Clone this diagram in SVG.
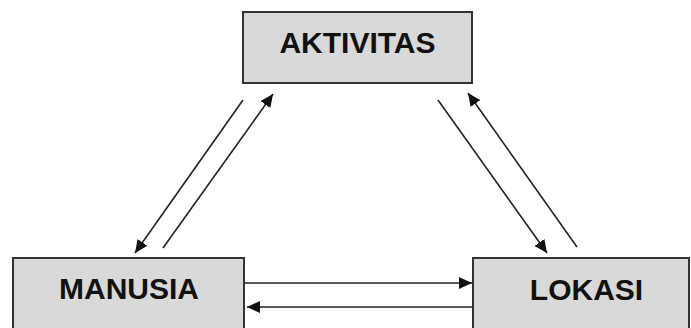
<svg xmlns="http://www.w3.org/2000/svg" width="691" height="328" viewBox="0 0 691 328">
<style>
.box{fill:#d9d9d9;stroke:#333;stroke-width:2}
.lbl{font-family:"Liberation Sans",Arial,sans-serif;font-weight:bold;font-size:30px;fill:#111;text-anchor:middle}
.conn{stroke:#222;stroke-width:1.6;fill:none;marker-end:url(#ah)}
</style>
<defs>
<marker id="ah" markerUnits="userSpaceOnUse" markerWidth="14" markerHeight="12" refX="13" refY="6" orient="auto">
<path d="M0,0 L13,6 L0,12 z" fill="#111"/>
</marker>
</defs>
<rect width="691" height="328" fill="#fff"/>
<g id="connectors">
<line class="conn" x1="243" y1="100" x2="135" y2="253"/>
<line class="conn" x1="163" y1="248" x2="273" y2="94"/>
<line class="conn" x1="438" y1="100" x2="547" y2="253"/>
<line class="conn" x1="577" y1="247" x2="468" y2="93"/>
<line class="conn" x1="245" y1="283" x2="472" y2="283"/>
<line class="conn" x1="473" y1="307" x2="247" y2="307"/>
</g>
<g id="aktivitas">
<rect class="box" x="243" y="12" width="229" height="71"/>
<text class="lbl" x="357.5" y="53">AKTIVITAS</text>
</g>
<g id="manusia">
<rect class="box" x="13" y="258" width="231" height="80"/>
<text class="lbl" x="129" y="299">MANUSIA</text>
</g>
<g id="lokasi">
<rect class="box" x="473" y="258" width="216" height="80"/>
<text class="lbl" x="586.5" y="300">LOKASI</text>
</g>
</svg>
